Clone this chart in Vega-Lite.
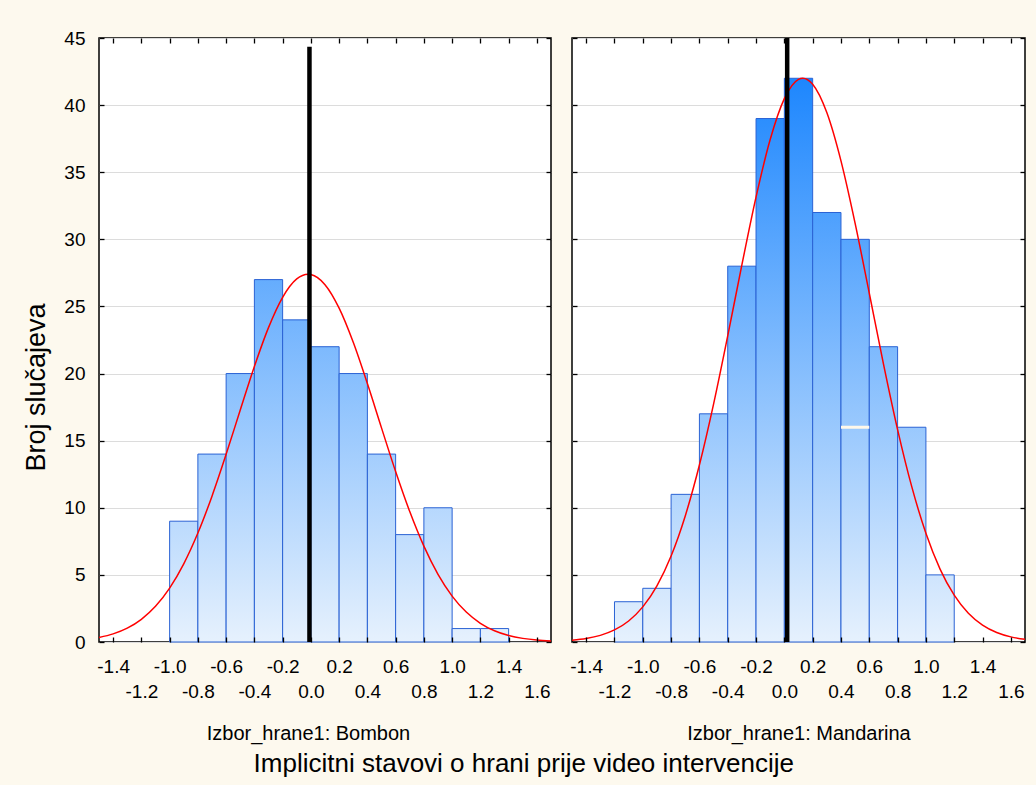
{
  "$schema": "https://vega.github.io/schema/vega-lite/v6.json",
  "background": "#fdf9ee",
  "padding": {"left": 21, "top": 28, "right": 12, "bottom": 8},
  "config": {
    "font": "Liberation Sans",
    "view": {"stroke": "#000000", "strokeWidth": 1.5, "fill": "#ffffff"},
    "axis": {
      "labelFont": "Liberation Sans",
      "titleFont": "Liberation Sans",
      "labelColor": "#000000",
      "titleColor": "#000000",
      "tickColor": "#000000",
      "tickWidth": 1.3,
      "domain": false,
      "titleFontWeight": "normal",
      "labelLineHeight": 25
    },
    "concat": {"spacing": 16}
  },
  "title": {
    "text": "Implicitni stavovi o hrani prije video intervencije",
    "orient": "bottom",
    "anchor": "middle",
    "fontSize": 26,
    "fontWeight": "normal",
    "font": "Liberation Sans",
    "color": "#000000",
    "offset": 7
  },
  "datasets": {
    "bombon_bins": [
      {"start": -1.0, "end": -0.8, "count": 9},
      {"start": -0.8, "end": -0.6, "count": 14},
      {"start": -0.6, "end": -0.4, "count": 20},
      {"start": -0.4, "end": -0.2, "count": 27},
      {"start": -0.2, "end": 0.0, "count": 24},
      {"start": 0.0, "end": 0.2, "count": 22},
      {"start": 0.2, "end": 0.4, "count": 20},
      {"start": 0.4, "end": 0.6, "count": 14},
      {"start": 0.6, "end": 0.8, "count": 8},
      {"start": 0.8, "end": 1.0, "count": 10},
      {"start": 1.0, "end": 1.2, "count": 1},
      {"start": 1.2, "end": 1.4, "count": 1}
    ],
    "mandarina_bins": [
      {"start": -1.2, "end": -1.0, "count": 3},
      {"start": -1.0, "end": -0.8, "count": 4},
      {"start": -0.8, "end": -0.6, "count": 11},
      {"start": -0.6, "end": -0.4, "count": 17},
      {"start": -0.4, "end": -0.2, "count": 28},
      {"start": -0.2, "end": 0.0, "count": 39},
      {"start": 0.0, "end": 0.2, "count": 42},
      {"start": 0.2, "end": 0.4, "count": 32},
      {"start": 0.4, "end": 0.6, "count": 30},
      {"start": 0.6, "end": 0.8, "count": 22},
      {"start": 0.8, "end": 1.0, "count": 16},
      {"start": 1.0, "end": 1.2, "count": 5}
    ],
    "bombon_curve": [
      {"x": -1.5, "y": 0.343}, {"x": -1.4, "y": 0.608}, {"x": -1.3, "y": 1.034}, {"x": -1.2, "y": 1.692},
      {"x": -1.1, "y": 2.659}, {"x": -1.0, "y": 4.014}, {"x": -0.9, "y": 5.823}, {"x": -0.8, "y": 8.115},
      {"x": -0.7, "y": 10.867}, {"x": -0.6, "y": 13.981}, {"x": -0.5, "y": 17.283}, {"x": -0.4, "y": 20.527},
      {"x": -0.3, "y": 23.424}, {"x": -0.2, "y": 25.681}, {"x": -0.1, "y": 27.051}, {"x": -0.02, "y": 27.4},
      {"x": 0.0, "y": 27.378}, {"x": 0.1, "y": 26.622}, {"x": 0.2, "y": 24.872}, {"x": 0.3, "y": 22.326},
      {"x": 0.4, "y": 19.253}, {"x": 0.5, "y": 15.954}, {"x": 0.6, "y": 12.702}, {"x": 0.7, "y": 9.716},
      {"x": 0.8, "y": 7.14}, {"x": 0.9, "y": 5.041}, {"x": 1.0, "y": 3.421}, {"x": 1.1, "y": 2.23},
      {"x": 1.2, "y": 1.396}, {"x": 1.3, "y": 0.84}, {"x": 1.4, "y": 0.486}, {"x": 1.5, "y": 0.27},
      {"x": 1.6, "y": 0.144}, {"x": 1.7, "y": 0.074}
    ],
    "mandarina_curve": [
      {"x": -1.5, "y": 0.13}, {"x": -1.4, "y": 0.259}, {"x": -1.3, "y": 0.493}, {"x": -1.2, "y": 0.898},
      {"x": -1.1, "y": 1.566}, {"x": -1.0, "y": 2.617}, {"x": -0.9, "y": 4.185}, {"x": -0.8, "y": 6.408},
      {"x": -0.7, "y": 9.394}, {"x": -0.6, "y": 13.187}, {"x": -0.5, "y": 17.723}, {"x": -0.4, "y": 22.805},
      {"x": -0.3, "y": 28.097}, {"x": -0.2, "y": 33.146}, {"x": -0.1, "y": 37.438}, {"x": 0.0, "y": 40.485},
      {"x": 0.1, "y": 41.918}, {"x": 0.13, "y": 42.0}, {"x": 0.2, "y": 41.555}, {"x": 0.3, "y": 39.443},
      {"x": 0.4, "y": 35.845}, {"x": 0.5, "y": 31.189}, {"x": 0.6, "y": 25.984}, {"x": 0.7, "y": 20.726},
      {"x": 0.8, "y": 15.828}, {"x": 0.9, "y": 11.574}, {"x": 1.0, "y": 8.104}, {"x": 1.1, "y": 5.432},
      {"x": 1.2, "y": 3.486}, {"x": 1.3, "y": 2.142}, {"x": 1.4, "y": 1.26}, {"x": 1.5, "y": 0.71},
      {"x": 1.6, "y": 0.383}, {"x": 1.7, "y": 0.198}
    ],
    "bombon_ref": [{"x": -0.01, "y": 0, "y2": 44.35}],
    "mandarina_ref": [{"x": 0.02, "y": 0, "y2": 45}],
    "mandarina_stripe": [{"x": 0.4, "x2": 0.6, "y": 16}]
  },
  "hconcat": [
    {
      "width": 452,
      "height": 604,
      "layer": [
        {
          "data": {"name": "bombon_bins"},
          "mark": {
            "type": "bar",
            "stroke": "#2a62d4",
            "strokeWidth": 1,
            "fill": {"expr": "{gradient: 'linear', x1: 0, y1: 1 - 45 / datum.count, x2: 0, y2: 1, stops: [{offset: 0, color: '#0f7ffe'}, {offset: 1, color: '#e6f1fd'}]}"}
          },
          "encoding": {
            "x": {
              "field": "start", "type": "quantitative",
              "scale": {"domain": [-1.5, 1.7], "nice": false, "zero": false},
              "axis": {
                "orient": "bottom", "zindex": 1,
                "values": [-1.4, -1.2, -1.0, -0.8, -0.6, -0.4, -0.2, 0.0, 0.2, 0.4, 0.6, 0.8, 1.0, 1.2, 1.4, 1.6],
                "format": ".1f",
                "labelExpr": "(round(datum.value * 10) + 14) % 4 == 0 ? replace(datum.label, '\u2212', '-') : ['', replace(datum.label, '\u2212', '-')]",
                "labelOverlap": false, "labelBound": false, "labelFlush": false,
                "labelFontSize": 19, "labelPadding": 20.7,
                "tickSize": -5, "grid": false,
                "title": "Izbor_hrane1: Bombon", "titleFontSize": 20,
                "titleX": 209, "titleY": 81, "titleBaseline": "top"
              }
            },
            "x2": {"field": "end"},
            "y": {
              "field": "count", "type": "quantitative",
              "scale": {"domain": [0, 45], "nice": false},
              "axis": {
                "orient": "left", "zindex": 0,
                "values": [0, 5, 10, 15, 20, 25, 30, 35, 40, 45],
                "labelFontSize": 19, "labelPadding": 19,
                "tickSize": -5, "grid": true, "gridColor": "#dcdcdc", "gridWidth": 1,
                "title": "Broj slučajeva", "titleFontSize": 27,
                "titleX": -49, "titleY": 349, "titleAngle": -90, "titleBaseline": "bottom"
              }
            },
            "y2": {"datum": 0}
          }
        },
        {
          "data": {"name": "bombon_curve"},
          "mark": {"type": "line", "color": "#ff0000", "strokeWidth": 1.5, "interpolate": "monotone", "clip": true},
          "encoding": {
            "x": {"field": "x", "type": "quantitative",
                  "axis": {"orient": "top", "labels": false, "title": null, "tickSize": -5, "grid": false, "values": [-1.4, -1.2, -1.0, -0.8, -0.6, -0.4, -0.2, 0.0, 0.2, 0.4, 0.6, 0.8, 1.0, 1.2, 1.4, 1.6]}},
            "y": {"field": "y", "type": "quantitative",
                  "axis": {"orient": "right", "labels": false, "title": null, "tickSize": -5, "grid": false, "values": [0, 5, 10, 15, 20, 25, 30, 35, 40, 45]}}
          }
        },
        {
          "data": {"name": "bombon_ref"},
          "mark": {"type": "rule", "color": "#000000", "strokeWidth": 4.5},
          "encoding": {
            "x": {"field": "x", "type": "quantitative", "axis": null},
            "y": {"field": "y", "type": "quantitative", "axis": null},
            "y2": {"field": "y2"}
          }
        }
      ],
      "resolve": {"axis": {"x": "independent", "y": "independent"}}
    },
    {
      "width": 453,
      "height": 604,
      "layer": [
        {
          "data": {"name": "mandarina_bins"},
          "mark": {
            "type": "bar",
            "stroke": "#2a62d4",
            "strokeWidth": 1,
            "fill": {"expr": "{gradient: 'linear', x1: 0, y1: 1 - 45 / datum.count, x2: 0, y2: 1, stops: [{offset: 0, color: '#0f7ffe'}, {offset: 1, color: '#e6f1fd'}]}"}
          },
          "encoding": {
            "x": {
              "field": "start", "type": "quantitative",
              "scale": {"domain": [-1.5, 1.7], "nice": false, "zero": false},
              "axis": {
                "orient": "bottom", "zindex": 1,
                "values": [-1.4, -1.2, -1.0, -0.8, -0.6, -0.4, -0.2, 0.0, 0.2, 0.4, 0.6, 0.8, 1.0, 1.2, 1.4, 1.6],
                "format": ".1f",
                "labelExpr": "(round(datum.value * 10) + 14) % 4 == 0 ? replace(datum.label, '\u2212', '-') : ['', replace(datum.label, '\u2212', '-')]",
                "labelOverlap": false, "labelBound": false, "labelFlush": false,
                "labelFontSize": 19, "labelPadding": 20.7,
                "tickSize": -5, "grid": false,
                "title": "Izbor_hrane1: Mandarina", "titleFontSize": 20,
                "titleY": 81, "titleBaseline": "top"
              }
            },
            "x2": {"field": "end"},
            "y": {
              "field": "count", "type": "quantitative",
              "scale": {"domain": [0, 45], "nice": false},
              "axis": {
                "orient": "left", "zindex": 0,
                "values": [0, 5, 10, 15, 20, 25, 30, 35, 40, 45],
                "labels": false, "title": null,
                "tickSize": -5, "grid": true, "gridColor": "#dcdcdc", "gridWidth": 1
              }
            },
            "y2": {"datum": 0}
          }
        },
        {
          "data": {"name": "mandarina_stripe"},
          "mark": {"type": "rule", "color": "#fff8ea", "strokeWidth": 3},
          "encoding": {
            "x": {"field": "x", "type": "quantitative", "axis": null},
            "x2": {"field": "x2"},
            "y": {"field": "y", "type": "quantitative", "axis": null}
          }
        },
        {
          "data": {"name": "mandarina_curve"},
          "mark": {"type": "line", "color": "#ff0000", "strokeWidth": 1.5, "interpolate": "monotone", "clip": true},
          "encoding": {
            "x": {"field": "x", "type": "quantitative",
                  "axis": {"orient": "top", "labels": false, "title": null, "tickSize": -5, "grid": false, "values": [-1.4, -1.2, -1.0, -0.8, -0.6, -0.4, -0.2, 0.0, 0.2, 0.4, 0.6, 0.8, 1.0, 1.2, 1.4, 1.6]}},
            "y": {"field": "y", "type": "quantitative",
                  "axis": {"orient": "right", "labels": false, "title": null, "tickSize": -5, "grid": false, "values": [0, 5, 10, 15, 20, 25, 30, 35, 40, 45]}}
          }
        },
        {
          "data": {"name": "mandarina_ref"},
          "mark": {"type": "rule", "color": "#000000", "strokeWidth": 4.5},
          "encoding": {
            "x": {"field": "x", "type": "quantitative", "axis": null},
            "y": {"field": "y", "type": "quantitative", "axis": null},
            "y2": {"field": "y2"}
          }
        }
      ],
      "resolve": {"axis": {"x": "independent", "y": "independent"}}
    }
  ]
}
